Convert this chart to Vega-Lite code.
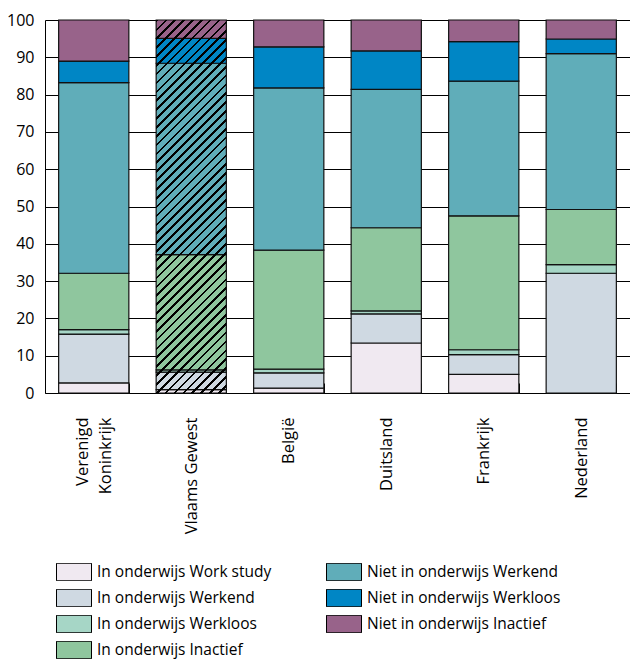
{
  "$schema": "https://vega.github.io/schema/vega-lite/v6.json",
  "width": 585,
  "height": 373,
  "autosize": {"type": "none"},
  "padding": {"left": 45, "top": 20, "right": 0, "bottom": 266},
  "config": {
    "view": {"stroke": null},
    "font": "Open Sans",
    "axis": {"labelFont": "Open Sans", "labelColor": "#000", "domainColor": "#000", "tickColor": "#000", "title": null}
  },
  "data": {
    "values": [
      {"country": "Verenigd Koninkrijk", "category": "In onderwijs Work study", "rank": 1, "value": 2.7},
      {"country": "Verenigd Koninkrijk", "category": "In onderwijs Werkend", "rank": 2, "value": 13.1},
      {"country": "Verenigd Koninkrijk", "category": "In onderwijs Werkloos", "rank": 3, "value": 1.2},
      {"country": "Verenigd Koninkrijk", "category": "In onderwijs Inactief", "rank": 4, "value": 15.1},
      {"country": "Verenigd Koninkrijk", "category": "Niet in onderwijs Werkend", "rank": 5, "value": 51.1},
      {"country": "Verenigd Koninkrijk", "category": "Niet in onderwijs Werkloos", "rank": 6, "value": 5.8},
      {"country": "Verenigd Koninkrijk", "category": "Niet in onderwijs Inactief", "rank": 7, "value": 11.0},
      {"country": "Vlaams Gewest", "category": "In onderwijs Work study", "rank": 1, "value": 0.9},
      {"country": "Vlaams Gewest", "category": "In onderwijs Werkend", "rank": 2, "value": 4.7},
      {"country": "Vlaams Gewest", "category": "In onderwijs Werkloos", "rank": 3, "value": 0.6},
      {"country": "Vlaams Gewest", "category": "In onderwijs Inactief", "rank": 4, "value": 30.9},
      {"country": "Vlaams Gewest", "category": "Niet in onderwijs Werkend", "rank": 5, "value": 51.3},
      {"country": "Vlaams Gewest", "category": "Niet in onderwijs Werkloos", "rank": 6, "value": 6.7},
      {"country": "Vlaams Gewest", "category": "Niet in onderwijs Inactief", "rank": 7, "value": 4.9},
      {"country": "België", "category": "In onderwijs Work study", "rank": 1, "value": 1.3},
      {"country": "België", "category": "In onderwijs Werkend", "rank": 2, "value": 4.1},
      {"country": "België", "category": "In onderwijs Werkloos", "rank": 3, "value": 1.0},
      {"country": "België", "category": "In onderwijs Inactief", "rank": 4, "value": 31.9},
      {"country": "België", "category": "Niet in onderwijs Werkend", "rank": 5, "value": 43.5},
      {"country": "België", "category": "Niet in onderwijs Werkloos", "rank": 6, "value": 11.0},
      {"country": "België", "category": "Niet in onderwijs Inactief", "rank": 7, "value": 7.2},
      {"country": "Duitsland", "category": "In onderwijs Work study", "rank": 1, "value": 13.4},
      {"country": "Duitsland", "category": "In onderwijs Werkend", "rank": 2, "value": 7.8},
      {"country": "Duitsland", "category": "In onderwijs Werkloos", "rank": 3, "value": 0.8},
      {"country": "Duitsland", "category": "In onderwijs Inactief", "rank": 4, "value": 22.3},
      {"country": "Duitsland", "category": "Niet in onderwijs Werkend", "rank": 5, "value": 37.1},
      {"country": "Duitsland", "category": "Niet in onderwijs Werkloos", "rank": 6, "value": 10.3},
      {"country": "Duitsland", "category": "Niet in onderwijs Inactief", "rank": 7, "value": 8.3},
      {"country": "Frankrijk", "category": "In onderwijs Work study", "rank": 1, "value": 5.0},
      {"country": "Frankrijk", "category": "In onderwijs Werkend", "rank": 2, "value": 5.3},
      {"country": "Frankrijk", "category": "In onderwijs Werkloos", "rank": 3, "value": 1.3},
      {"country": "Frankrijk", "category": "In onderwijs Inactief", "rank": 4, "value": 35.9},
      {"country": "Frankrijk", "category": "Niet in onderwijs Werkend", "rank": 5, "value": 36.1},
      {"country": "Frankrijk", "category": "Niet in onderwijs Werkloos", "rank": 6, "value": 10.6},
      {"country": "Frankrijk", "category": "Niet in onderwijs Inactief", "rank": 7, "value": 5.8},
      {"country": "Nederland", "category": "In onderwijs Work study", "rank": 1, "value": 0},
      {"country": "Nederland", "category": "In onderwijs Werkend", "rank": 2, "value": 32.1},
      {"country": "Nederland", "category": "In onderwijs Werkloos", "rank": 3, "value": 2.3},
      {"country": "Nederland", "category": "In onderwijs Inactief", "rank": 4, "value": 14.8},
      {"country": "Nederland", "category": "Niet in onderwijs Werkend", "rank": 5, "value": 41.8},
      {"country": "Nederland", "category": "Niet in onderwijs Werkloos", "rank": 6, "value": 3.9},
      {"country": "Nederland", "category": "Niet in onderwijs Inactief", "rank": 7, "value": 5.1}
    ]
  },
  "encoding": {
    "x": {
      "field": "country",
      "type": "nominal",
      "sort": ["Verenigd Koninkrijk", "Vlaams Gewest", "België", "Duitsland", "Frankrijk", "Nederland"],
      "scale": {"paddingInner": 0.28, "paddingOuter": 0.14},
      "axis": {
        "labelAngle": -90,
        "labelAlign": "right",
        "labelBaseline": "middle",
        "labelFontSize": 16.5,
        "labelLineHeight": 23,
        "labelPadding": 34,
        "labelOffset": {"condition": {"test": "datum.value == 'Verenigd Koninkrijk'", "value": -11.5}, "value": 0},
        "labelExpr": "datum.value == 'Verenigd Koninkrijk' ? ['Verenigd', 'Koninkrijk'] : datum.value",
        "tickBand": "extent",
        "tickSize": -10,
        "tickWidth": 1,
        "domainWidth": 1,
        "grid": false
      }
    },
    "y": {
      "type": "quantitative",
      "scale": {"domain": [0, 100], "nice": false},
      "axis": {
        "values": [0, 10, 20, 30, 40, 50, 60, 70, 80, 90, 100],
        "ticks": false,
        "labelFontSize": 16,
        "labelPadding": 11,
        "grid": true,
        "gridColor": "#000",
        "gridWidth": 1,
        "domainWidth": 1
      }
    }
  },
  "layer": [
    {
      "mark": {"type": "bar", "stroke": "#111", "strokeWidth": 1.2, "opacity": 1},
      "encoding": {
        "y": {"field": "value", "type": "quantitative", "stack": "zero"},
        "order": {"field": "rank", "type": "quantitative", "sort": "ascending"},
        "fill": {
          "field": "category",
          "type": "nominal",
          "scale": {
            "domain": ["In onderwijs Work study", "In onderwijs Werkend", "In onderwijs Werkloos", "In onderwijs Inactief", "Niet in onderwijs Werkend", "Niet in onderwijs Werkloos", "Niet in onderwijs Inactief"],
            "range": ["#f0e9f1", "#cfd9e2", "#a6d6c6", "#8fc69e", "#60adb9", "#0086c5", "#98638a"]
          },
          "legend": {
            "title": null,
            "orient": "none",
            "legendX": 11,
            "legendY": 543,
            "padding": 0,
            "columns": 2,
            "columnPadding": 54,
            "rowPadding": 8,
            "clipHeight": 18,
            "symbolType": "M-1,-0.5H1V0.5H-1Z",
            "symbolSize": 1225,
            "symbolStrokeColor": "#000",
            "symbolStrokeWidth": 1,
            "symbolOpacity": 1,
            "labelFont": "Open Sans",
            "labelFontSize": 15.5,
            "labelColor": "#000",
            "labelOffset": 5,
            "labelLimit": 300
          }
        }
      }
    },
    {
      "transform": [{"filter": "datum.country == 'Vlaams Gewest'"}],
      "mark": {
        "type": "bar",
        "strokeWidth": 0,
        "fill": {
          "gradient": "linear",
          "x1": 0, "y1": 0, "x2": 0.216, "y2": 1.1476,
          "stops": [
            {"offset": 0, "color": "#000"}, {"offset": 0.006, "color": "#000"}, {"offset": 0.006, "color": "transparent"}, {"offset": 0.02, "color": "transparent"},
            {"offset": 0.02, "color": "#000"}, {"offset": 0.026, "color": "#000"}, {"offset": 0.026, "color": "transparent"}, {"offset": 0.04, "color": "transparent"},
            {"offset": 0.04, "color": "#000"}, {"offset": 0.046, "color": "#000"}, {"offset": 0.046, "color": "transparent"}, {"offset": 0.06, "color": "transparent"},
            {"offset": 0.06, "color": "#000"}, {"offset": 0.066, "color": "#000"}, {"offset": 0.066, "color": "transparent"}, {"offset": 0.08, "color": "transparent"},
            {"offset": 0.08, "color": "#000"}, {"offset": 0.086, "color": "#000"}, {"offset": 0.086, "color": "transparent"}, {"offset": 0.10, "color": "transparent"},
            {"offset": 0.10, "color": "#000"}, {"offset": 0.106, "color": "#000"}, {"offset": 0.106, "color": "transparent"}, {"offset": 0.12, "color": "transparent"},
            {"offset": 0.12, "color": "#000"}, {"offset": 0.126, "color": "#000"}, {"offset": 0.126, "color": "transparent"}, {"offset": 0.14, "color": "transparent"},
            {"offset": 0.14, "color": "#000"}, {"offset": 0.146, "color": "#000"}, {"offset": 0.146, "color": "transparent"}, {"offset": 0.16, "color": "transparent"},
            {"offset": 0.16, "color": "#000"}, {"offset": 0.166, "color": "#000"}, {"offset": 0.166, "color": "transparent"}, {"offset": 0.18, "color": "transparent"},
            {"offset": 0.18, "color": "#000"}, {"offset": 0.186, "color": "#000"}, {"offset": 0.186, "color": "transparent"}, {"offset": 0.20, "color": "transparent"},
            {"offset": 0.20, "color": "#000"}, {"offset": 0.206, "color": "#000"}, {"offset": 0.206, "color": "transparent"}, {"offset": 0.22, "color": "transparent"},
            {"offset": 0.22, "color": "#000"}, {"offset": 0.226, "color": "#000"}, {"offset": 0.226, "color": "transparent"}, {"offset": 0.24, "color": "transparent"},
            {"offset": 0.24, "color": "#000"}, {"offset": 0.246, "color": "#000"}, {"offset": 0.246, "color": "transparent"}, {"offset": 0.26, "color": "transparent"},
            {"offset": 0.26, "color": "#000"}, {"offset": 0.266, "color": "#000"}, {"offset": 0.266, "color": "transparent"}, {"offset": 0.28, "color": "transparent"},
            {"offset": 0.28, "color": "#000"}, {"offset": 0.286, "color": "#000"}, {"offset": 0.286, "color": "transparent"}, {"offset": 0.30, "color": "transparent"},
            {"offset": 0.30, "color": "#000"}, {"offset": 0.306, "color": "#000"}, {"offset": 0.306, "color": "transparent"}, {"offset": 0.32, "color": "transparent"},
            {"offset": 0.32, "color": "#000"}, {"offset": 0.326, "color": "#000"}, {"offset": 0.326, "color": "transparent"}, {"offset": 0.34, "color": "transparent"},
            {"offset": 0.34, "color": "#000"}, {"offset": 0.346, "color": "#000"}, {"offset": 0.346, "color": "transparent"}, {"offset": 0.36, "color": "transparent"},
            {"offset": 0.36, "color": "#000"}, {"offset": 0.366, "color": "#000"}, {"offset": 0.366, "color": "transparent"}, {"offset": 0.38, "color": "transparent"},
            {"offset": 0.38, "color": "#000"}, {"offset": 0.386, "color": "#000"}, {"offset": 0.386, "color": "transparent"}, {"offset": 0.40, "color": "transparent"},
            {"offset": 0.40, "color": "#000"}, {"offset": 0.406, "color": "#000"}, {"offset": 0.406, "color": "transparent"}, {"offset": 0.42, "color": "transparent"},
            {"offset": 0.42, "color": "#000"}, {"offset": 0.426, "color": "#000"}, {"offset": 0.426, "color": "transparent"}, {"offset": 0.44, "color": "transparent"},
            {"offset": 0.44, "color": "#000"}, {"offset": 0.446, "color": "#000"}, {"offset": 0.446, "color": "transparent"}, {"offset": 0.46, "color": "transparent"},
            {"offset": 0.46, "color": "#000"}, {"offset": 0.466, "color": "#000"}, {"offset": 0.466, "color": "transparent"}, {"offset": 0.48, "color": "transparent"},
            {"offset": 0.48, "color": "#000"}, {"offset": 0.486, "color": "#000"}, {"offset": 0.486, "color": "transparent"}, {"offset": 0.50, "color": "transparent"},
            {"offset": 0.50, "color": "#000"}, {"offset": 0.506, "color": "#000"}, {"offset": 0.506, "color": "transparent"}, {"offset": 0.52, "color": "transparent"},
            {"offset": 0.52, "color": "#000"}, {"offset": 0.526, "color": "#000"}, {"offset": 0.526, "color": "transparent"}, {"offset": 0.54, "color": "transparent"},
            {"offset": 0.54, "color": "#000"}, {"offset": 0.546, "color": "#000"}, {"offset": 0.546, "color": "transparent"}, {"offset": 0.56, "color": "transparent"},
            {"offset": 0.56, "color": "#000"}, {"offset": 0.566, "color": "#000"}, {"offset": 0.566, "color": "transparent"}, {"offset": 0.58, "color": "transparent"},
            {"offset": 0.58, "color": "#000"}, {"offset": 0.586, "color": "#000"}, {"offset": 0.586, "color": "transparent"}, {"offset": 0.60, "color": "transparent"},
            {"offset": 0.60, "color": "#000"}, {"offset": 0.606, "color": "#000"}, {"offset": 0.606, "color": "transparent"}, {"offset": 0.62, "color": "transparent"},
            {"offset": 0.62, "color": "#000"}, {"offset": 0.626, "color": "#000"}, {"offset": 0.626, "color": "transparent"}, {"offset": 0.64, "color": "transparent"},
            {"offset": 0.64, "color": "#000"}, {"offset": 0.646, "color": "#000"}, {"offset": 0.646, "color": "transparent"}, {"offset": 0.66, "color": "transparent"},
            {"offset": 0.66, "color": "#000"}, {"offset": 0.666, "color": "#000"}, {"offset": 0.666, "color": "transparent"}, {"offset": 0.68, "color": "transparent"},
            {"offset": 0.68, "color": "#000"}, {"offset": 0.686, "color": "#000"}, {"offset": 0.686, "color": "transparent"}, {"offset": 0.70, "color": "transparent"},
            {"offset": 0.70, "color": "#000"}, {"offset": 0.706, "color": "#000"}, {"offset": 0.706, "color": "transparent"}, {"offset": 0.72, "color": "transparent"},
            {"offset": 0.72, "color": "#000"}, {"offset": 0.726, "color": "#000"}, {"offset": 0.726, "color": "transparent"}, {"offset": 0.74, "color": "transparent"},
            {"offset": 0.74, "color": "#000"}, {"offset": 0.746, "color": "#000"}, {"offset": 0.746, "color": "transparent"}, {"offset": 0.76, "color": "transparent"},
            {"offset": 0.76, "color": "#000"}, {"offset": 0.766, "color": "#000"}, {"offset": 0.766, "color": "transparent"}, {"offset": 0.78, "color": "transparent"},
            {"offset": 0.78, "color": "#000"}, {"offset": 0.786, "color": "#000"}, {"offset": 0.786, "color": "transparent"}, {"offset": 0.80, "color": "transparent"},
            {"offset": 0.80, "color": "#000"}, {"offset": 0.806, "color": "#000"}, {"offset": 0.806, "color": "transparent"}, {"offset": 0.82, "color": "transparent"},
            {"offset": 0.82, "color": "#000"}, {"offset": 0.826, "color": "#000"}, {"offset": 0.826, "color": "transparent"}, {"offset": 0.84, "color": "transparent"},
            {"offset": 0.84, "color": "#000"}, {"offset": 0.846, "color": "#000"}, {"offset": 0.846, "color": "transparent"}, {"offset": 0.86, "color": "transparent"},
            {"offset": 0.86, "color": "#000"}, {"offset": 0.866, "color": "#000"}, {"offset": 0.866, "color": "transparent"}, {"offset": 0.88, "color": "transparent"},
            {"offset": 0.88, "color": "#000"}, {"offset": 0.886, "color": "#000"}, {"offset": 0.886, "color": "transparent"}, {"offset": 0.90, "color": "transparent"},
            {"offset": 0.90, "color": "#000"}, {"offset": 0.906, "color": "#000"}, {"offset": 0.906, "color": "transparent"}, {"offset": 0.92, "color": "transparent"},
            {"offset": 0.92, "color": "#000"}, {"offset": 0.926, "color": "#000"}, {"offset": 0.926, "color": "transparent"}, {"offset": 0.94, "color": "transparent"},
            {"offset": 0.94, "color": "#000"}, {"offset": 0.946, "color": "#000"}, {"offset": 0.946, "color": "transparent"}, {"offset": 0.96, "color": "transparent"},
            {"offset": 0.96, "color": "#000"}, {"offset": 0.966, "color": "#000"}, {"offset": 0.966, "color": "transparent"}, {"offset": 0.98, "color": "transparent"},
            {"offset": 0.98, "color": "#000"}, {"offset": 0.986, "color": "#000"}, {"offset": 0.986, "color": "transparent"}, {"offset": 1, "color": "transparent"}
          ]
        }
      },
      "encoding": {
        "y": {"field": "value", "type": "quantitative", "aggregate": "sum"}
      }
    }
  ]
}
